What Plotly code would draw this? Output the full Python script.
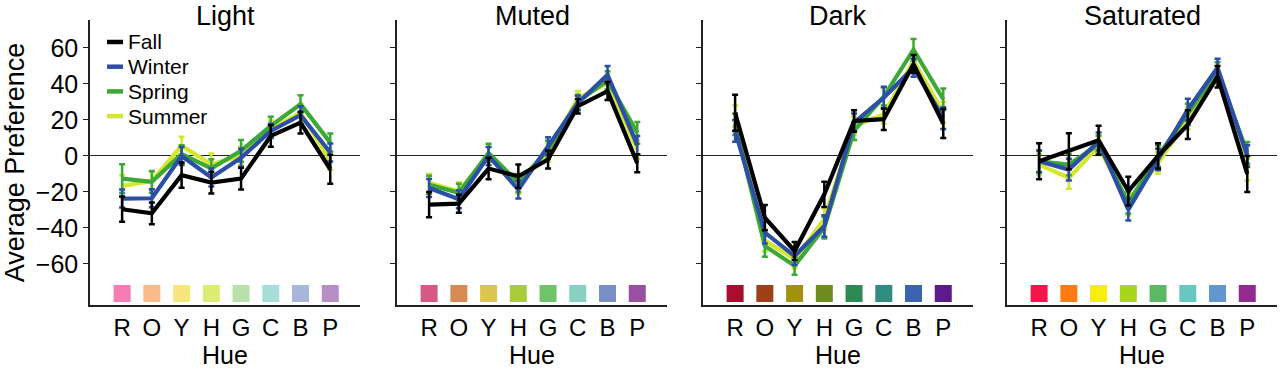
import plotly.graph_objects as go

# ---------------- data ----------------
hues = ["R", "O", "Y", "H", "G", "C", "B", "P"]
panels = ["Light", "Muted", "Dark", "Saturated"]
seasons = ["Fall", "Winter", "Spring", "Summer"]
season_colors = {"Fall": "#000000", "Winter": "#2B4EA6", "Spring": "#3DA835", "Summer": "#D4E62E"}

light_fall = [-29.6, -31.9, -10.7, -14.8, -12.6, 11.1, 18.5, -7.4]
light_winter = [-23.7, -23.5, 0, -12, -1, 13.9, 22.6, 1.9]
light_spring = [-12.6, -14.4, 1, -6.9, 2.8, 16.7, 28.7, 7.4]
light_summer = [-16.7, -13.9, 5.6, -4.6, 0, 14.8, 24, -2.8]
light_fall_err = [7, 6, 7, 6, 6, 6, 6, 8]
light_winter_err = [5, 5, 5, 5, 5, 4, 5, 5]
light_spring_err = [8, 6, 5, 5, 6, 5, 5, 5]
light_summer_err = [6, 5, 5, 6, 5, 5, 5, 5]

muted_fall = [-27, -26.5, -7, -11.3, -2, 27.6, 36, -4]
muted_winter = [-17.8, -24, 0, -18.7, 5.4, 29.4, 45, 6]
muted_spring = [-16, -20.5, 1.7, -15, 3.5, 30, 42, 12.8]
muted_summer = [-15, -19.6, 0, -16, 1.7, 32, 40.5, 3.5]
muted_fall_err = [7, 5, 6, 6.5, 5, 4, 5, 5]
muted_winter_err = [5, 5, 5, 5, 5, 4, 5, 5]
muted_spring_err = [5, 5, 5, 5, 5, 4, 5, 6]
muted_summer_err = [5, 5, 5, 5, 5, 4, 5, 5]

dark_fall = [24, -34.3, -52.8, -21.3, 19.4, 20.4, 51, 18]
dark_winter = [13.9, -42.6, -55.6, -38.9, 18.5, 32.4, 49, 21]
dark_spring = [17.6, -50, -61, -39.8, 13.9, 33, 59, 31.5]
dark_summer = [22, -47, -57.4, -35, 16.7, 23, 52.8, 24]
dark_fall_err = [10, 7, 5, 7, 6, 6, 5, 8]
dark_winter_err = [6, 6, 5, 6, 5, 6, 5, 6]
dark_spring_err = [6, 6, 5, 6, 5, 5, 6, 6]
dark_summer_err = [6, 6, 5, 6, 5, 5, 5, 6]

sat_fall = [-3, 2.6, 8.7, -19.6, 0, 17.4, 44, -10]
sat_winter = [-3, -7.6, 8, -29.8, -2, 25.7, 49, 0]
sat_spring = [-3, -4.8, 6.3, -26, 0, 23, 47, 1.7]
sat_summer = [-4.8, -12.2, 5.4, -27, -3.9, 21, 45, -7.6]
sat_fall_err = [10, 10, 8, 8, 7, 8, 6, 10]
sat_winter_err = [6, 6, 5, 6, 6, 6, 5, 6]
sat_spring_err = [6, 6, 5, 6, 6, 6, 5, 6]
sat_summer_err = [6, 6, 5, 6, 6, 6, 5, 6]

light_swatches = ["#F57CB5", "#F9BB8A", "#F7E67E", "#DDEC72", "#B8E0A8", "#A5DFD8", "#A7B6DA", "#B78FC6"]
muted_swatches = ["#D45A83", "#D98A52", "#DCC452", "#A8CC3E", "#6EC46A", "#86D1C3", "#7890C6", "#9A4FA2"]
dark_swatches = ["#A6102E", "#A0401A", "#A3900F", "#6E8C20", "#2E8A55", "#2E8C80", "#3A63B0", "#5C1A8A"]
sat_swatches = ["#F2164A", "#FF7A10", "#F8EC10", "#A8D61A", "#5CB865", "#66C8C0", "#6296CF", "#922A92"]
swatch_level = -76.4

yticks = [-60, -40, -20, 0, 20, 40, 60]

data = {
    "Light": {"Fall": (light_fall, light_fall_err), "Winter": (light_winter, light_winter_err),
              "Spring": (light_spring, light_spring_err), "Summer": (light_summer, light_summer_err)},
    "Muted": {"Fall": (muted_fall, muted_fall_err), "Winter": (muted_winter, muted_winter_err),
              "Spring": (muted_spring, muted_spring_err), "Summer": (muted_summer, muted_summer_err)},
    "Dark": {"Fall": (dark_fall, dark_fall_err), "Winter": (dark_winter, dark_winter_err),
             "Spring": (dark_spring, dark_spring_err), "Summer": (dark_summer, dark_summer_err)},
    "Saturated": {"Fall": (sat_fall, sat_fall_err), "Winter": (sat_winter, sat_winter_err),
                  "Spring": (sat_spring, sat_spring_err), "Summer": (sat_summer, sat_summer_err)},
}
swatches = {"Light": light_swatches, "Muted": muted_swatches, "Dark": dark_swatches, "Saturated": sat_swatches}

# ---------------- layout geometry ----------------
W, H = 1280, 369
FONT = "Liberation Sans, Arial, Helvetica, sans-serif"
px_domains = [(90, 360), (397, 667), (703, 973), (1007, 1277)]
y_dom = ((H - 305) / H, (H - 20) / H)
xidx = list(range(len(hues)))

fig = go.Figure()
layout_axes = {}
annotations = []
shapes = []

for i, panel in enumerate(panels):
    n = "" if i == 0 else str(i + 1)
    xa, ya = "x" + n, "y" + n
    # swatches
    fig.add_trace(go.Scatter(
        x=xidx, y=[swatch_level] * len(hues), mode="markers", xaxis=xa, yaxis=ya,
        marker=dict(symbol="square", size=17, color=swatches[panel], line=dict(width=0)),
        showlegend=False, hoverinfo="skip"))
    for s in ["Summer", "Spring", "Winter", "Fall"]:
        vals, errs = data[panel][s]
        fig.add_trace(go.Scatter(
            x=xidx, y=vals, mode="lines", name=s, xaxis=xa, yaxis=ya,
            line=dict(color=season_colors[s], width=4.2),
            error_y=dict(type="data", array=errs, visible=True, color=season_colors[s],
                         thickness=2.5, width=3),
            showlegend=False, legendgroup=s))
    d0, d1 = px_domains[i]
    layout_axes["xaxis" + n] = dict(
        domain=[d0 / W, d1 / W], range=[-1.08, 8.0], anchor=ya,
        tickmode="array", tickvals=xidx, ticktext=hues, ticks="",
        tickfont=dict(size=24, color="black", family=FONT),
        showline=True, linecolor="#222", linewidth=1.5, showgrid=False, zeroline=False,
        title=dict(text="Hue", font=dict(size=25, color="black", family=FONT), standoff=7),
        fixedrange=True)
    layout_axes["yaxis" + n] = dict(
        domain=list(y_dom), range=[-82.8, 75.5], anchor=xa,
        tickmode="array", tickvals=yticks, ticks="outside", ticklen=5, tickwidth=1.2, tickcolor="#222",
        showticklabels=(i == 0), tickfont=dict(size=25, color="black", family=FONT),
        showline=True, linecolor="#222", linewidth=1.5, showgrid=False,
        zeroline=True, zerolinecolor="#222", zerolinewidth=1.2,
        title=dict(text="Average Preference" if i == 0 else "",
                   font=dict(size=27, color="black", family=FONT), standoff=6),
        fixedrange=True)
    annotations.append(dict(
        text=panel, x=(d0 + d1) / 2 / W, y=1 - 16 / H, xref="paper", yref="paper",
        xanchor="center", yanchor="middle", showarrow=False,
        font=dict(size=27, color="black", family=FONT)))

# legend (key) in the first panel
leg_x0, leg_x1, leg_text_x, leg_top, leg_step = 107, 123, 126, 42, 24.7
for k, s in enumerate(seasons):
    yy = 1 - (leg_top + k * leg_step) / H
    shapes.append(dict(type="line", xref="paper", yref="paper", x0=leg_x0 / W, x1=leg_x1 / W,
                       y0=yy, y1=yy, line=dict(color=season_colors[s], width=4.5)))
    annotations.append(dict(text=s, x=leg_text_x / W, y=yy, xref="paper", yref="paper",
                            xanchor="left", yanchor="middle", showarrow=False,
                            font=dict(size=21, color="black", family=FONT)))

fig.update_layout(
    width=W, height=H, margin=dict(l=0, r=0, t=0, b=0),
    paper_bgcolor="white", plot_bgcolor="white",
    font=dict(family=FONT, color="black"),
    annotations=annotations, shapes=shapes, showlegend=False,
    **layout_axes)

fig.write_html("out.html", config={"displayModeBar": False},
               post_script="document.body.style.margin='0';document.body.style.padding='0';")
